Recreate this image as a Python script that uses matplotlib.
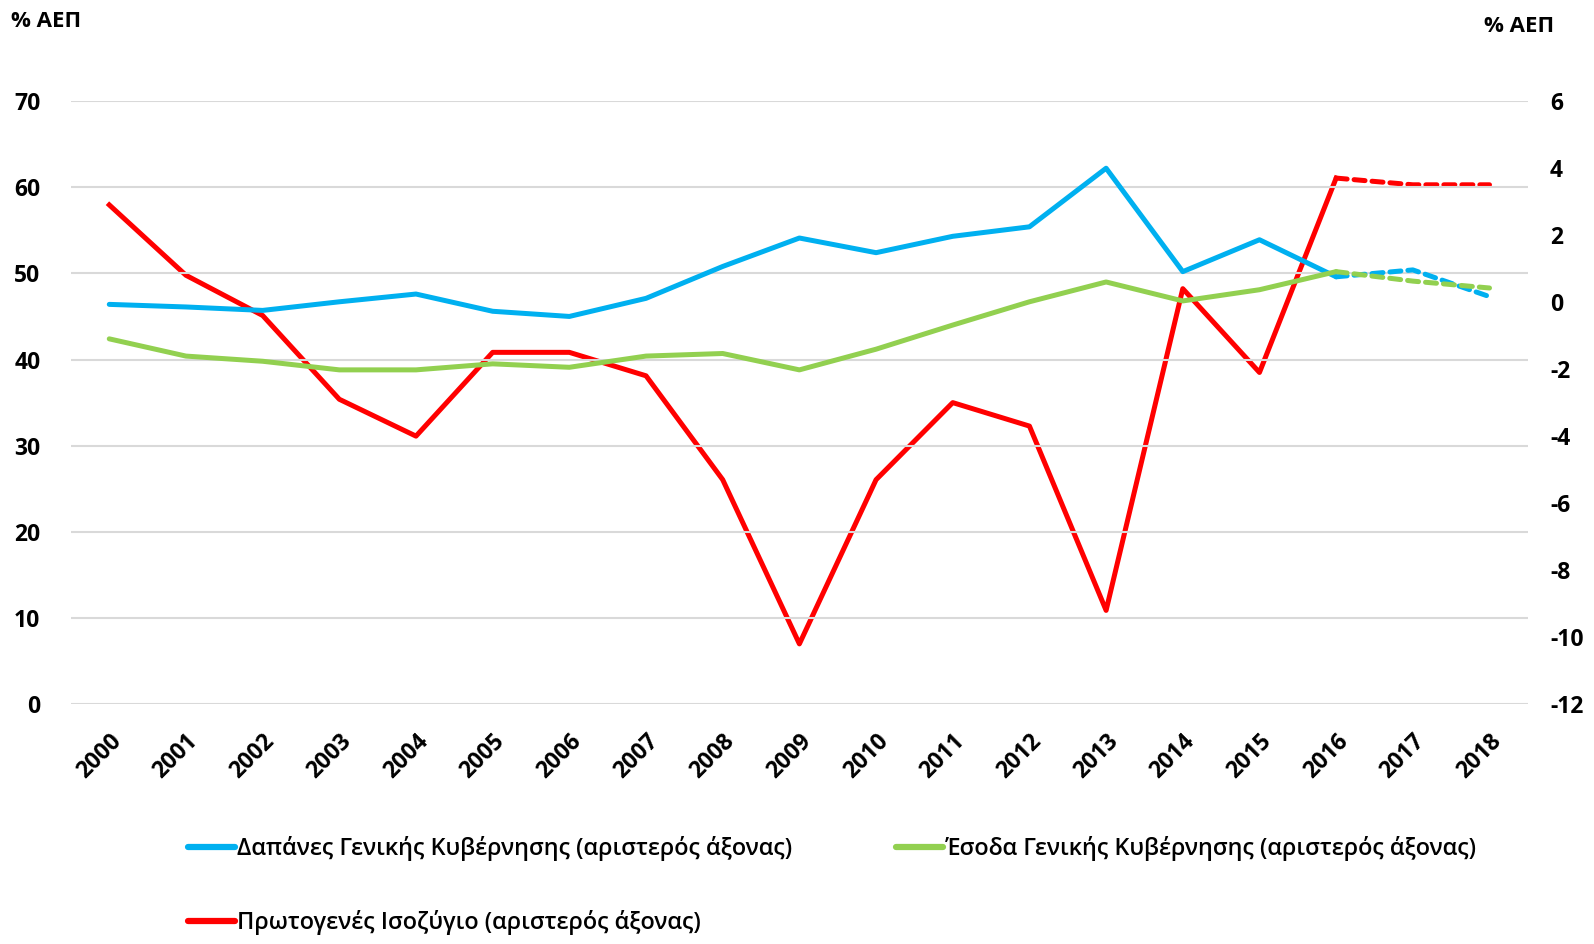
import matplotlib.pyplot as plt
from matplotlib.lines import Line2D

plt.rcParams['font.family'] = ['Open Sans', 'DejaVu Sans']

# Data (% of GDP)
years = [str(y) for y in range(2000, 2019)]
expenditure = [46.4, 46.1, 45.7, 46.7, 47.6, 45.6, 45.0, 47.1, 50.8, 54.1,
               52.4, 54.3, 55.4, 62.2, 50.2, 53.9, 49.6, 50.4, 47.3]
revenue = [42.4, 40.4, 39.8, 38.8, 38.8, 39.5, 39.1, 40.4, 40.7, 38.8,
           41.2, 44.0, 46.7, 49.0, 46.8, 48.1, 50.2, 49.1, 48.3]
primary_balance = [2.9, 0.8, -0.4, -2.9, -4.0, -1.5, -1.5, -2.2, -5.3, -10.2,
                   -5.3, -3.0, -3.7, -9.2, 0.4, -2.1, 3.7, 3.5, 3.5]
left_ticks = [0, 10, 20, 30, 40, 50, 60, 70]
right_ticks = [-12, -10, -8, -6, -4, -2, 0, 2, 4, 6]
labels = ['Δαπάνες Γενικής Κυβέρνησης (αριστερός άξονας)',
          'Έσοδα Γενικής Κυβέρνησης (αριστερός άξονας)',
          'Πρωτογενές Ισοζύγιο (αριστερός άξονας)']

BLUE = '#00B0F0'
GREEN = '#92D050'
RED = '#FF0000'
GRID = '#D9D9D9'

fig = plt.figure(figsize=(15.94, 9.44), dpi=100)
ax = fig.add_axes([0.0445, 0.254, 0.914, 0.639])
ax2 = ax.twinx()

x = list(range(len(years)))
split = years.index('2016')  # outlook years drawn dashed

for series, color in [(expenditure, BLUE), (revenue, GREEN)]:
    ax.plot(x[:split + 1], series[:split + 1], color=color, lw=3.6,
            solid_capstyle='round', solid_joinstyle='round')
    ax.plot(x[split:], series[split:], color=color, lw=3.6,
            linestyle=(0, (2.2, 1.4)), dash_capstyle='round')

ax2.plot(x[:split + 1], primary_balance[:split + 1], color=RED, lw=3.6,
         solid_joinstyle='round')
ax2.plot(x[split:], primary_balance[split:], color=RED, lw=3.6,
         linestyle=(0, (2.2, 1.4)), dash_capstyle='round')

ax.set_xlim(-0.5, len(years) - 0.5)
ax.set_ylim(0, 70)
ax2.set_ylim(-12, 6)
ax.set_yticks(left_ticks)
ax2.set_yticks(right_ticks)
ax.set_xticks(x)
ax.set_xticklabels(years, rotation=45, ha='right', rotation_mode='anchor',
                   fontsize=16.5, fontweight='bold')
ax.set_yticklabels([str(t) for t in left_ticks], fontsize=16.5, fontweight='bold')
ax2.set_yticklabels([str(t) for t in right_ticks], fontsize=16.5, fontweight='bold')

ax.grid(axis='y', color=GRID, lw=1.5)
ax.set_axisbelow(True)
for a in (ax, ax2):
    for s in a.spines.values():
        s.set_visible(False)
    a.tick_params(length=0)
ax.tick_params(axis='y', pad=22)
ax.tick_params(axis='x', pad=18)
ax2.tick_params(axis='y', pad=16)
ax.set_zorder(ax2.get_zorder() + 1)
ax.patch.set_visible(False)

fig.text(0.007, 0.977, '% ΑΕΠ', fontsize=16, fontweight='bold', va='center', ha='left')
fig.text(0.975, 0.972, '% ΑΕΠ', fontsize=16, fontweight='bold', va='center', ha='right')

handles = [Line2D([], [], color=BLUE, lw=4.5, solid_capstyle='round'),
           Line2D([], [], color=RED, lw=4.5, solid_capstyle='round'),
           Line2D([], [], color=GREEN, lw=4.5, solid_capstyle='round')]
fig.legend(handles, [labels[0], labels[2], labels[1]], ncol=2, frameon=False,
           loc='upper left', bbox_to_anchor=(0.105, 0.137),
           prop={'size': 16.8, 'weight': 'semibold'},
           handlelength=2.0, handletextpad=0.1, labelspacing=2.1, columnspacing=4.45)

fig.savefig('out.png', dpi=100)
